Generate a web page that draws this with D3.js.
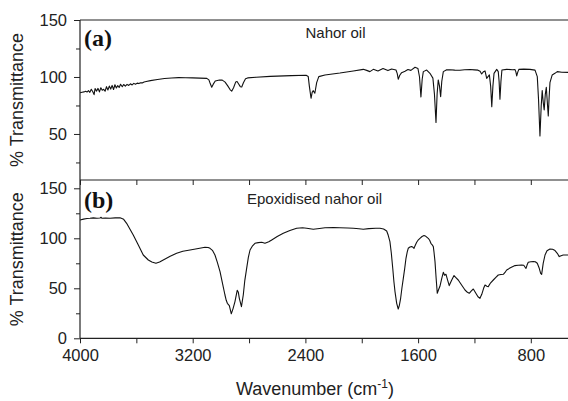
<!DOCTYPE html>
<html>
<head>
<meta charset="utf-8">
<script src="https://cdn.jsdelivr.net/npm/d3@7/dist/d3.min.js"></script>
<style>
  html, body { margin: 0; padding: 0; background: #fff; }
  svg { display: block; font-family: "Liberation Sans", Arial, sans-serif; }
</style>
</head>
<body>
<svg id="chart" width="568" height="401"></svg>
<script>
// FTIR spectra: [wavenumber (cm-1), % transmittance]
const nahorOil = [
  [4000, 86.2], [3985, 86.6], [3972, 86.9], [3960, 87.4], [3950, 86.8], [3940, 88.0],
  [3930, 86.5], [3920, 89.2], [3910, 87.3], [3900, 84.5], [3893, 89.8], [3882, 87.6],
  [3872, 90.0], [3862, 86.9], [3852, 90.6], [3842, 88.4], [3832, 89.2], [3822, 87.5],
  [3812, 91.5], [3802, 88.6], [3792, 92.0], [3782, 89.4], [3772, 92.6], [3762, 89.0],
  [3752, 93.2], [3742, 90.3], [3732, 92.4], [3722, 90.8], [3712, 93.6], [3700, 91.4],
  [3690, 93.4], [3678, 92.0], [3666, 93.5], [3654, 92.6], [3642, 94.0], [3630, 93.0],
  [3618, 94.4], [3606, 93.6], [3594, 94.6], [3582, 94.2], [3570, 95.0], [3558, 94.8],
  [3545, 95.6], [3530, 96.0], [3500, 96.8], [3450, 97.8], [3400, 98.6],
  [3350, 99.1], [3300, 99.4], [3250, 99.3], [3200, 99.2],
  [3150, 99.0], [3100, 98.8], [3085, 97.5], [3075, 94.0], [3065, 91.0], [3055, 93.5],
  [3040, 96.5], [3010, 97.4], [2990, 97.2], [2970, 95.5], [2950, 92.0], [2935, 89.0],
  [2923, 87.5], [2910, 90.5], [2895, 95.5], [2885, 96.0], [2875, 94.0], [2862, 91.5],
  [2852, 91.2], [2840, 95.0], [2825, 98.5], [2810, 99.2], [2750, 99.8], [2650, 100.5],
  [2500, 101.2], [2395, 101.5], [2380, 100.5], [2372, 92.0], [2360, 81.3], [2352, 86.5],
  [2344, 88.0], [2333, 85.7], [2320, 95.0], [2305, 100.3], [2261, 101.8], [2155, 103.5],
  [2060, 105.3], [1989, 106.7], [1965, 105.8], [1942, 104.7], [1918, 106.7], [1885, 105.3],
  [1849, 107.5], [1814, 105.6], [1788, 107.0], [1757, 106.1], [1748, 103.0], [1741, 98.0],
  [1730, 101.5], [1717, 103.8], [1693, 105.0], [1672, 106.5], [1651, 105.8], [1622, 108.5],
  [1601, 107.4], [1590, 100.0], [1580, 82.5], [1571, 98.0], [1563, 104.7], [1539, 106.1],
  [1516, 103.2], [1495, 99.0], [1484, 85.0], [1473, 60.0], [1465, 85.0], [1457, 97.4],
  [1448, 92.0], [1440, 82.7], [1432, 96.0], [1421, 104.7], [1400, 106.2], [1374, 106.3],
  [1340, 106.0], [1303, 105.9], [1270, 106.4], [1232, 106.5], [1200, 106.2], [1175, 106.0],
  [1160, 105.0], [1149, 102.6], [1137, 104.5], [1125, 105.3], [1113, 98.8], [1094, 101.8],
  [1085, 92.0], [1077, 74.0], [1069, 92.0], [1061, 103.2], [1042, 106.7], [1031, 104.7],
  [1025, 96.0], [1019, 80.4], [1012, 96.0], [1005, 106.1], [971, 106.7], [930, 106.4],
  [912, 106.5], [906, 104.5], [900, 101.0], [892, 104.5], [884, 106.7], [850, 106.9],
  [806, 106.7], [770, 106.0], [754, 100.3], [745, 80.0], [735, 48.2], [726, 75.0],
  [719, 88.0], [712, 78.0], [705, 71.0], [697, 85.0], [690, 91.0], [684, 80.0],
  [676, 65.8], [670, 82.0], [664, 95.0], [648, 101.8], [629, 103.2], [612, 104.7],
  [580, 104.2], [536, 104.0], [500, 104.2]
];

const epoxidisedOil = [
  [4000, 118.3], [3975, 119.2], [3950, 119.8], [3929, 120.0], [3905, 120.4], [3880, 120.1],
  [3858, 120.3], [3850, 121.0], [3845, 120.0], [3820, 120.2], [3787, 120.0], [3750, 120.4],
  [3716, 120.6], [3690, 119.0], [3669, 115.0], [3645, 109.0], [3622, 103.3], [3586, 93.3],
  [3551, 83.3], [3515, 78.3], [3490, 76.3], [3461, 75.0], [3435, 76.2], [3409, 78.3],
  [3360, 82.0], [3314, 85.0], [3270, 87.0], [3219, 88.3], [3160, 89.8], [3113, 91.0],
  [3090, 90.8], [3077, 90.0], [3060, 88.0], [3042, 83.3], [3025, 76.0], [3006, 66.7],
  [2990, 56.0], [2971, 43.3], [2962, 38.0], [2954, 35.0], [2940, 32.6], [2926, 24.5],
  [2913, 30.0], [2900, 36.7], [2884, 48.0], [2876, 46.0], [2869, 40.0], [2854, 31.7],
  [2841, 43.3], [2830, 58.0], [2817, 70.0], [2805, 81.0], [2793, 88.3], [2775, 92.5],
  [2758, 95.0], [2735, 95.7], [2710, 96.0], [2687, 95.0], [2660, 96.5], [2639, 98.3],
  [2600, 101.8], [2557, 105.0], [2510, 107.8], [2462, 110.0], [2420, 110.5], [2391, 110.0],
  [2344, 109.0], [2300, 109.8], [2261, 110.6], [2200, 110.7], [2155, 110.6], [2100, 110.3],
  [2060, 110.0], [2020, 109.5], [1989, 109.0], [1950, 109.7], [1900, 110.0], [1871, 110.0],
  [1845, 109.3], [1823, 107.3], [1812, 103.0], [1800, 96.7], [1790, 85.0], [1780, 70.0],
  [1772, 57.0], [1764, 46.7], [1752, 35.0], [1741, 29.3], [1733, 33.0], [1724, 40.0],
  [1715, 50.0], [1705, 60.0], [1695, 70.0], [1686, 80.0], [1677, 86.5], [1670, 90.0],
  [1658, 91.3], [1646, 91.7], [1636, 91.0], [1629, 90.0], [1620, 93.0], [1610, 96.0],
  [1598, 98.5], [1587, 100.0], [1572, 101.8], [1558, 102.7], [1545, 102.0], [1528, 100.0],
  [1518, 98.0], [1509, 95.0], [1500, 93.5], [1492, 91.7], [1487, 86.0], [1480, 76.7],
  [1472, 60.0], [1464, 45.0], [1455, 48.5], [1445, 52.0], [1432, 60.0], [1421, 66.0],
  [1412, 63.0], [1402, 64.0], [1390, 58.0], [1379, 52.7], [1362, 58.0], [1345, 62.7],
  [1330, 60.5], [1315, 58.3], [1290, 53.0], [1267, 48.3], [1250, 46.0], [1237, 45.0],
  [1222, 47.5], [1208, 49.3], [1190, 45.0], [1175, 41.5], [1161, 40.0], [1148, 44.0],
  [1135, 50.0], [1125, 53.3], [1112, 52.0], [1102, 51.7], [1085, 55.5], [1066, 58.3],
  [1048, 61.0], [1031, 63.3], [1012, 63.8], [995, 64.0], [980, 66.5], [971, 68.3],
  [945, 70.5], [912, 72.7], [890, 73.1], [865, 73.3], [850, 73.0], [840, 71.0],
  [834, 70.0], [826, 73.5], [818, 76.0], [800, 76.5], [782, 76.7], [768, 76.5],
  [754, 75.0], [740, 70.0], [730, 65.0], [723, 64.0], [712, 75.0], [699, 83.3],
  [685, 87.5], [664, 89.3], [645, 89.0], [628, 87.7], [612, 85.0], [598, 81.7],
  [585, 82.5], [570, 83.3], [550, 83.3], [536, 83.3], [500, 83.5]
];

const xTicks = [4000, 3600, 3200, 2800, 2400, 2000, 1600, 1200, 800, 400];
const xTickLabels = [4000, 3200, 2400, 1600, 800];
const yTicks = [0, 25, 50, 75, 100, 125, 150];
const yTickLabels = [0, 50, 100, 150];

const panelTitles = ["Nahor oil", "Epoxidised nahor oil"];
const panelLetters = ["(a)", "(b)"];

const svg = d3.select("#chart");
const W = 568;
const left = 80;

// shared wavenumber axis (decreasing to the right)
const x = d3.scaleLinear().domain([4000, 400]).range([left, left + 3600 * (112.7 / 800)]);

const panels = [
  { data: nahorOil, top: 20, bottom: 180, domain: [9.6, 150], title: panelTitles[0], letter: panelLetters[0], titleX: 305.5, titleY: 38, letterY: 46, labels: [50, 100, 150] },
  { data: epoxidisedOil, top: 180, bottom: 338.3, domain: [0, 158.3], title: panelTitles[1], letter: panelLetters[1], titleX: 247, titleY: 204, letterY: 208, labels: [0, 50, 100, 150] }
];

svg.append("defs").append("clipPath").attr("id", "plotclip")
  .append("rect").attr("x", left).attr("y", 0).attr("width", W - left).attr("height", 401);

panels.forEach((p, i) => {
  const y = d3.scaleLinear().domain(p.domain).range([p.bottom, p.top]);
  const g = svg.append("g");

  // spectrum trace
  const line = d3.line().x(d => x(d[0])).y(d => y(d[1]));
  g.append("path")
    .datum(p.data)
    .attr("clip-path", "url(#plotclip)")
    .attr("fill", "none")
    .attr("stroke", "#111")
    .attr("stroke-width", 1.1)
    .attr("stroke-linejoin", "round")
    .attr("d", line);

  // left axis
  const yAxis = d3.axisLeft(y)
    .tickValues(yTicks.filter(v => v >= p.domain[0] && v <= p.domain[1]))
    .tickSize(6)
    .tickFormat(v => p.labels.includes(v) ? v : "");
  const ya = g.append("g").attr("transform", `translate(${left},0)`).call(yAxis);
  ya.select(".domain").attr("d", `M0,${p.top}V${p.bottom}`);
  ya.selectAll(".tick line").attr("stroke", "#222").attr("x2", v => (yTickLabels.includes(v) ? -6 : -4));
  ya.selectAll(".tick text")
    .attr("x", -13)
    .style("font-size", "16.5px")
    .style("font-family", "'Liberation Sans', Arial, sans-serif")
    .attr("fill", "#222");
  ya.select(".domain").attr("stroke", "#222").attr("stroke-width", 1.2);

  // bottom axis of each panel
  const xAxis = d3.axisBottom(x)
    .tickValues(xTicks)
    .tickSize(5)
    .tickSizeOuter(0)
    .tickFormat(v => (i === 1 && xTickLabels.includes(v)) ? v : "");
  const xa = g.append("g").attr("transform", `translate(0,${p.bottom})`).call(xAxis);
  xa.select(".domain").attr("stroke", "#222").attr("stroke-width", 1.2)
    .attr("d", `M${left},0H${W}`);
  xa.selectAll(".tick line").attr("stroke", "#222");
  xa.selectAll(".tick text")
    .attr("y", 11)
    .style("font-size", "16.5px")
    .style("font-family", "'Liberation Sans', Arial, sans-serif")
    .attr("fill", "#222");

  // top frame line
  if (i === 0) {
    g.append("line").attr("x1", left).attr("x2", W).attr("y1", p.top).attr("y2", p.top)
      .attr("stroke", "#222").attr("stroke-width", 1.2);
  }

  // panel letter
  g.append("text")
    .attr("x", 84).attr("y", p.letterY)
    .style("font-family", "'Liberation Serif', 'Times New Roman', serif")
    .style("font-weight", "bold")
    .style("font-size", "24px")
    .attr("fill", "#111")
    .text(p.letter);

  // panel title
  g.append("text")
    .attr("x", p.titleX).attr("y", p.titleY)
    .style("font-size", "15px")
    .attr("fill", "#222")
    .text(p.title);

  // y axis title
  g.append("text")
    .attr("transform", `translate(17,${(p.top + p.bottom) / 2}) rotate(-90)`)
    .attr("text-anchor", "middle")
    .attr("dy", "0.35em")
    .style("font-size", "18px")
    .attr("fill", "#222")
    .text("% Transmittance");
});

// x axis title
const xt = svg.append("text")
  .attr("x", 315).attr("y", 395)
  .attr("text-anchor", "middle")
  .style("font-size", "18px")
  .attr("fill", "#222");
xt.append("tspan").text("Wavenumber (cm");
xt.append("tspan").attr("dy", -7).style("font-size", "12px").text("-1");
xt.append("tspan").attr("dy", 7).text(")");
</script>
</body>
</html>
